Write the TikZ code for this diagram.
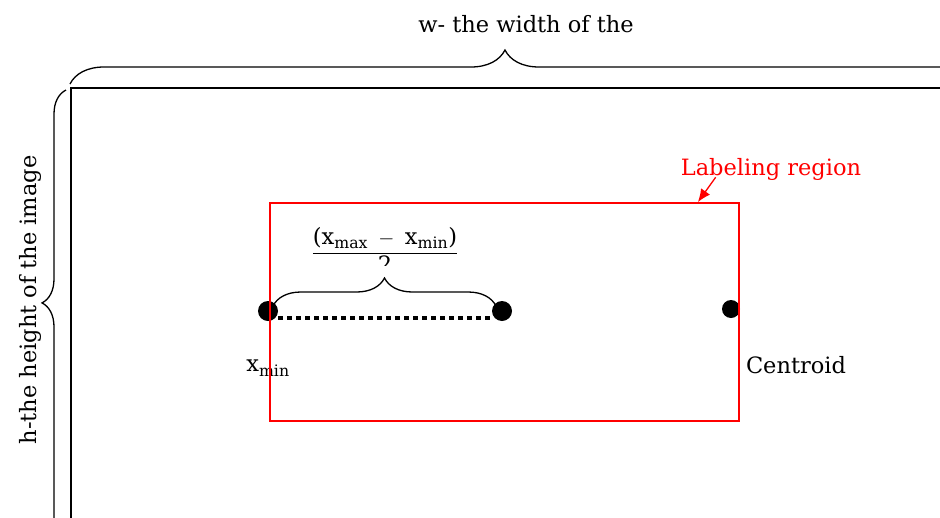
\documentclass[tikz,border=0pt]{standalone}
\usepackage{amsmath}
\usepackage{fontspec}
\setmainfont{DejaVu Serif}
\usetikzlibrary{positioning}
\usetikzlibrary{arrows.meta}
\usetikzlibrary{decorations.pathreplacing}
\tikzset{circ/.style = {fill, circle, inner sep = 0, minimum size = 20}}
\tikzset{brc/.style = {decorate, line width = 1.3pt}}
\tikzset{txt/.style = {font = \fontsize{22.5}{27}\selectfont, inner sep = 0}}

\begin{document}
\begin{tikzpicture}[x=1pt, y=-1pt]
      \useasboundingbox (0,0) rectangle (940,517);

      % frame of the image
      \coordinate (fbl) at (71,560);
      \coordinate (ftl) at (71,88);
      \coordinate (ftr) at (980,88);
      \draw[line width=1.8pt] (fbl) -- (ftl) -- (ftr);

      % width and height
      \coordinate (wa) at (70,84);
      \coordinate (wb) at (980,84);
      \draw[brc, decoration={brace, amplitude=34pt, aspect=0.478}] (wa) -- (wb);
      \node[txt] (wlbl) at (526,24) {w- the width of the};
      \coordinate (ha) at (66,560);
      \coordinate (hb) at (66,90);
      \draw[brc, decoration={brace, amplitude=24pt, aspect=0.547}] (ha) -- (hb);
      \node[txt, rotate=90] (hlbl) at (30,300) {h-the height of the image};

      % points
      \node[circ] (xmin) at (268,311) {};
      \node[circ] (xmid) at (502,311) {};
      \node[circ, minimum size=18] (cent) at (731,309) {};
      \draw[line width=4pt, dash pattern=on 5pt off 4pt]
        ([yshift=-7pt]xmin.east) -- ([yshift=-7pt]xmid.west);
      \coordinate (ba) at (273,306);
      \coordinate (bb) at (496,306);
      \draw[brc, decoration={brace, amplitude=28pt}] (ba) -- (bb);
      \begin{scope}
        \clip (300,200) rectangle (470,265);
        \node[txt] (half) at (385,250)
          {$\dfrac{\text{(x}_{\text{max}} \;-\; \text{x}_{\text{min}}\text{)}}{\text{2}}$};
      \end{scope}
      \node[txt] (xminlbl) at (268,368) {$\text{x}_{\text{min}}$};
      \node[txt] (centlbl) at (796,365) {Centroid};

      % labeling region
      \node[draw=red, line width=1.8pt, minimum width=469, minimum height=218,
            inner sep=0] (region) at (504.5,312) {};
      \node[txt, red] (reglbl) at (771,169) {Labeling region};
      \draw[red, line width=1.3pt, -{Latex[length=13pt, width=11pt]}]
        ([xshift=35pt, yshift=3pt]reglbl.south west) -- ([xshift=-42pt]region.north east);
    \end{tikzpicture}
\end{document}
